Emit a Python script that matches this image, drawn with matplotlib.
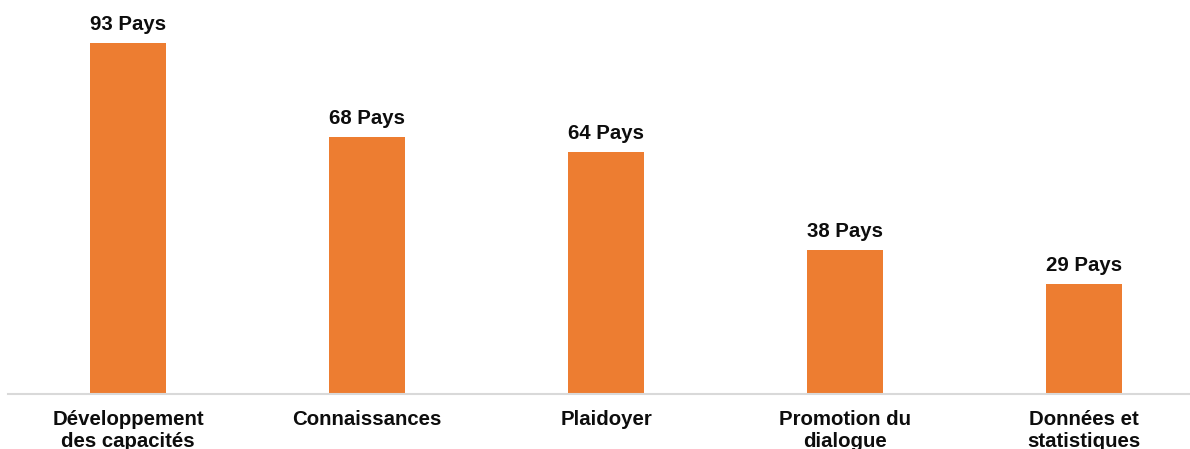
import matplotlib.pyplot as plt
import matplotlib.transforms as mtransforms

plt.rcParams['font.family'] = ['Liberation Sans', 'DejaVu Sans']

categories = ['Développement\ndes capacités', 'Connaissances', 'Plaidoyer',
              'Promotion du\ndialogue', 'Données et\nstatistiques']
pays = [93, 68, 64, 38, 29]

W, H = 1190, 449
fig = plt.figure(figsize=(W / 100, H / 100), dpi=100)
# axes placé en pixels : ligne de base à y=393.5, de x=8 jusqu'au bord droit
ax = fig.add_axes([8 / W, (H - 393.5) / H, (W - 8) / W, 393.5 / H])

x = list(range(len(categories)))
bars = ax.bar(x, pays, width=0.318, color='#ED7D31', zorder=2)

ax.set_xlim(-0.502, 4.443)
ax.set_ylim(0, 104.4)

for s in ['top', 'right', 'left']:
    ax.spines[s].set_visible(False)
ax.spines['bottom'].set_color('#D9D9D9')
ax.spines['bottom'].set_linewidth(1.5)
ax.set_yticks([])
ax.set_xticks([])

for xi, v in zip(x, pays):
    ax.annotate(f'{v} Pays', xy=(xi, v), xytext=(0, 9.3), textcoords='offset points',
                ha='center', va='baseline', fontsize=14.7, fontweight='bold', color='#0D0D0D')

# libellés des catégories sous l'axe
trans = mtransforms.blended_transform_factory(ax.transData, fig.transFigure)
for xi, lab in zip(x, categories):
    ax.text(xi, 1 - 410 / H, lab, transform=trans, ha='center', va='top',
            fontsize=14.7, fontweight='bold', color='#0D0D0D', linespacing=1.2)

fig.savefig('out.png', dpi=100)
